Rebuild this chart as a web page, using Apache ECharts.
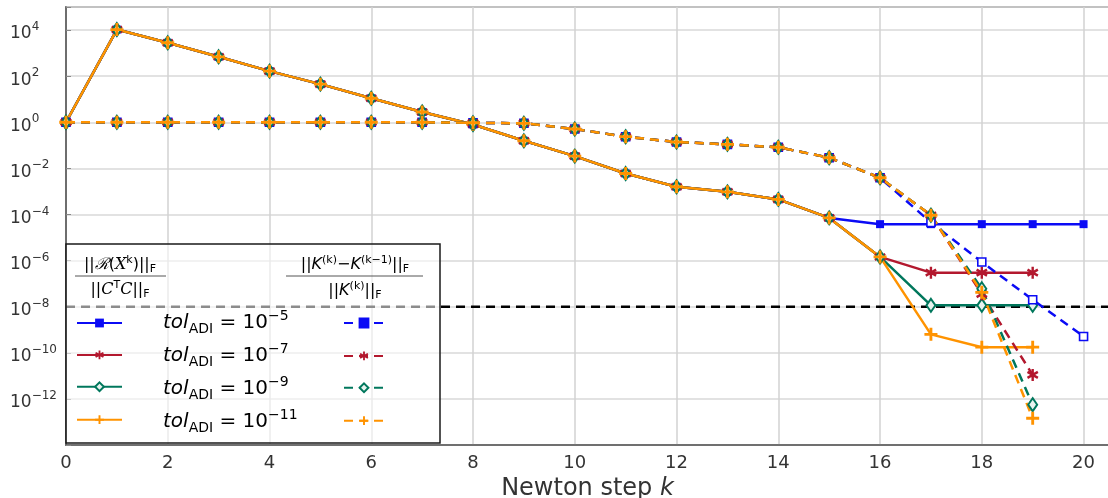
<!DOCTYPE html>
<html><head><meta charset="utf-8">
<script src="https://cdn.jsdelivr.net/npm/echarts@6/dist/echarts.min.js"></script>
<style>html,body{margin:0;padding:0;background:#fff}#c{width:1108px;height:498px}</style>
</head><body><div id="c"></div>
<script>
// ---------------- data ----------------
const steps = [0,1,2,3,4,5,6,7,8,9,10,11,12,13,14,15,16,17,18,19,20];
const tolExponents = [-5, -7, -9, -11];
// relative residual ||R(X^k)||_F / ||C^T C||_F  (solid)
const resTol5  = [1,1.05e4,2800,690,165,45,11,2.8,0.8,0.158,0.034,0.006,0.0016,9.6e-4,4.5e-4,7.1e-5,3.8e-5,3.8e-5,3.8e-5,3.8e-5,3.8e-5];
const resTol7  = [1,1.05e4,2800,690,165,45,11,2.8,0.8,0.158,0.034,0.006,0.0016,9.6e-4,4.5e-4,7.1e-5,1.44e-6,3e-7,3e-7,3e-7];
const resTol9  = [1,1.05e4,2800,690,165,45,11,2.8,0.8,0.158,0.034,0.006,0.0016,9.6e-4,4.5e-4,7.1e-5,1.44e-6,1.15e-8,1.15e-8,1.15e-8];
const resTol11 = [1,1.05e4,2800,690,165,45,11,2.8,0.8,0.158,0.034,0.006,0.0016,9.6e-4,4.5e-4,7.1e-5,1.44e-6,6.3e-10,1.75e-10,1.75e-10];
// relative feedback change ||K(k)-K(k-1)||_F / ||K(k)||_F  (dashed)
const dkTol5   = [1,1,1,1,1,1,1,1,0.95,0.9,0.51,0.237,0.139,0.11,0.082,0.029,0.0039,4.5e-5,8.7e-7,2e-8,5.1e-10];
const dkTol7   = [1,1,1,1,1,1,1,1,0.95,0.9,0.51,0.237,0.139,0.11,0.082,0.029,0.0039,9.3e-5,3.5e-8,1.1e-11];
const dkTol9   = [1,1,1,1,1,1,1,1,0.95,0.9,0.51,0.237,0.139,0.11,0.082,0.029,0.0039,9.3e-5,6e-8,5.6e-13];
const dkTol11  = [1,1,1,1,1,1,1,1,0.95,0.9,0.51,0.237,0.139,0.11,0.082,0.029,0.0039,9.3e-5,4.2e-8,1.45e-13];
const xTickLabels = [0,2,4,6,8,10,12,14,16,18,20];
const yTickExponents = [4,2,0,-2,-4,-6,-8,-10,-12];
const threshold = 1e-8;
const xRange = [0, 20.5];
const yRange = [1e-14, 1e5];

// ---------------- styles ----------------
const BLUE = '#0b0bf5', RED = '#b3182e', GREEN = '#00775c', ORANGE = '#ff9300';
const ASTERISK = 'path://M-1,-5L1,-5L1,5L-1,5Z M-4.83,-1.63L-3.83,-3.37L4.83,1.63L3.83,3.37Z M-3.83,3.37L-4.83,1.63L3.83,-3.37L4.83,-1.63Z';
const PLUS = 'path://M-1.1,-5L1.1,-5L1.1,-1.1L5,-1.1L5,1.1L1.1,1.1L1.1,5L-1.1,5L-1.1,1.1L-5,1.1L-5,-1.1L-1.1,-1.1Z';
const FONT = 'DejaVu Sans';

const pairs = arr => arr.map((v, i) => [steps[i], v]);
function mk(name, data, color, dashed, symbol, size, itemStyle) {
  return {
    name, type: 'line', data: pairs(data),
    symbol, symbolSize: size, symbolKeepAspect: true,
    lineStyle: {color, width: 2.5, type: dashed ? [9, 6] : 'solid'},
    itemStyle: Object.assign({color}, itemStyle || {}),
    emphasis: {disabled: true}, z: dashed ? 3 : 2
  };
}
const series = [
  {name: 'threshold', type: 'line', data: [[xRange[0], threshold], [xRange[1], threshold]],
   symbol: 'none', lineStyle: {color: '#000', type: [9, 6], width: 2.5}, emphasis: {disabled: true}, z: 2, silent: true},
  mk('r5', resTol5, BLUE, false, 'rect', 8),
  mk('r7', resTol7, RED, false, ASTERISK, 12),
  mk('r9', resTol9, GREEN, false, 'diamond', [9, 13], {color: '#e8f3ef', borderColor: GREEN, borderWidth: 2}),
  mk('r11', resTol11, ORANGE, false, PLUS, 13),
  mk('d5', dkTol5, BLUE, true, 'rect', 8, {color: '#fff', borderColor: BLUE, borderWidth: 1.6}),
  mk('d7', dkTol7, RED, true, ASTERISK, 12),
  mk('d9', dkTol9, GREEN, true, 'diamond', [9, 13], {color: '#e8f3ef', borderColor: GREEN, borderWidth: 2}),
  mk('d11', dkTol11, ORANGE, true, PLUS, 13)
];

const supStr = e => (e < 0 ? '\u2212' + (-e) : String(e));

// legend row texts & headers as graphic text
const rowRich = {
  it: {fontFamily: FONT, fontSize: 20, fontStyle: 'italic', color: '#333'},
  sub: {fontFamily: FONT, fontSize: 14, color: '#333', padding: [12, 0, 0, 0]},
  n: {fontFamily: FONT, fontSize: 20, color: '#333'},
  sup: {fontFamily: FONT, fontSize: 14, color: '#333', padding: [0, 0, 14, 0]}
};
const hdrRich = {
  n: {fontFamily: FONT, fontSize: 16, color: '#555'},
  it: {fontFamily: FONT, fontSize: 16, fontStyle: 'italic', color: '#555'},
  cal: {fontFamily: 'DejaVu Serif', fontSize: 16, fontStyle: 'italic', color: '#555'},
  sup: {fontFamily: FONT, fontSize: 11, color: '#555', padding: [0, 0, 10, 0]},
  sub: {fontFamily: FONT, fontSize: 11, color: '#555', padding: [8, 0, 0, 0]}
};
const graphics = [
  {type: 'rect', z: 50, shape: {x: 66, y: 244, width: 374, height: 199},
   style: {fill: 'rgba(255,255,255,0.55)', stroke: '#1a1a1a', lineWidth: 1.5}},
  {type: 'text', z: 60, style: {x: 120, y: 265, align: 'center', verticalAlign: 'middle', rich: hdrRich,
    text: '{n|||}{cal|\u211B}{n|(}{cal|X}{sup|k}{n|)||}{sub|F}'}},
  {type: 'line', z: 60, shape: {x1: 75, y1: 276, x2: 166, y2: 276}, style: {stroke: '#555', lineWidth: 1}},
  {type: 'text', z: 60, style: {x: 120, y: 290, align: 'center', verticalAlign: 'middle', rich: hdrRich,
    text: '{n|||}{cal|C}{sup|T}{cal|C}{n|||}{sub|F}'}},
  {type: 'text', z: 60, style: {x: 355, y: 265, align: 'center', verticalAlign: 'middle', rich: hdrRich,
    text: '{n|||}{it|K}{sup|(k)}{n|\u2212}{it|K}{sup|(k\u22121)}{n|||}{sub|F}'}},
  {type: 'line', z: 60, shape: {x1: 286, y1: 276, x2: 423, y2: 276}, style: {stroke: '#555', lineWidth: 1}},
  {type: 'text', z: 60, style: {x: 355, y: 291, align: 'center', verticalAlign: 'middle', rich: hdrRich,
    text: '{n|||}{it|K}{sup|(k)}{n|||}{sub|F}'}}
];
tolExponents.forEach((e, i) => {
  graphics.push({type: 'text', z: 60, style: {x: 163, y: 323 + 33 * i, align: 'left', verticalAlign: 'middle',
    rich: rowRich, text: '{it|tol}{sub|ADI}{n| = 10}{sup|' + supStr(e) + '}'}});
});

const chart = echarts.init(document.getElementById('c'), null, {renderer: 'canvas'});
chart.setOption({
  animation: false,
  backgroundColor: '#fff',
  grid: {left: 66, top: 7, width: 1043, height: 438, show: true, borderColor: '#555', borderWidth: 1.5,
         containLabel: false, outerBoundsMode: 'none'},
  xAxis: {
    type: 'value', min: xRange[0], max: xRange[1], interval: 2,
    axisLine: {show: true, lineStyle: {color: '#555', width: 1.5}},
    axisTick: {show: false},
    axisLabel: {formatter: v => (xTickLabels.indexOf(v) >= 0 ? String(v) : ''), fontFamily: FONT, fontSize: 18, color: '#333', margin: 9},
    splitLine: {show: true, lineStyle: {color: '#d2d2d2', width: 1.5}},
    name: 'Newton step {k|k}', nameLocation: 'middle', nameGap: 18,
    nameTextStyle: {fontFamily: FONT, fontSize: 24, color: '#333', rich: {k: {fontFamily: FONT, fontSize: 24, fontStyle: 'italic', color: '#333'}}}
  },
  yAxis: {
    type: 'log', logBase: 100, min: yRange[0], max: yRange[1], splitNumber: 10,
    axisLine: {show: true, lineStyle: {color: '#555', width: 1.5}},
    axisTick: {show: true, inside: true, length: 5, lineStyle: {color: '#888', width: 1}},
    minorTick: {show: false},
    axisLabel: {
      align: 'left', margin: 56,
      formatter: v => {
        const e = Math.round(Math.log10(v));
        if (yTickExponents.indexOf(e) < 0) return '';
        return '{b|10}{s|' + supStr(e) + '}';
      },
      rich: {
        b: {fontFamily: FONT, fontSize: 17, color: '#333', padding: [8, 0, 0, 0]},
        s: {fontFamily: FONT, fontSize: 12, color: '#333', padding: [0, 0, 6, 0]}
      }
    },
    splitLine: {show: true, lineStyle: {color: '#d9d9d9', width: 1.5}}
  },
  legend: [
    {data: ['r5', 'r7', 'r9', 'r11'], orient: 'vertical', left: 71, top: 312.5, itemWidth: 45, itemHeight: 11, itemGap: 22,
     formatter: () => '', selectedMode: false, z: 60, textStyle: {fontSize: 1}, padding: 5},
    {data: [{name: 'd5', itemStyle: {color: BLUE, borderColor: BLUE}}, 'd7', 'd9', 'd11'], orient: 'vertical', left: 338, top: 312.5,
     itemWidth: 40, itemHeight: 11, itemGap: 22,
     formatter: () => '', selectedMode: false, z: 60, textStyle: {fontSize: 1}, padding: 5}
  ],
  graphic: {elements: graphics},
  series
});
</script></body></html>
